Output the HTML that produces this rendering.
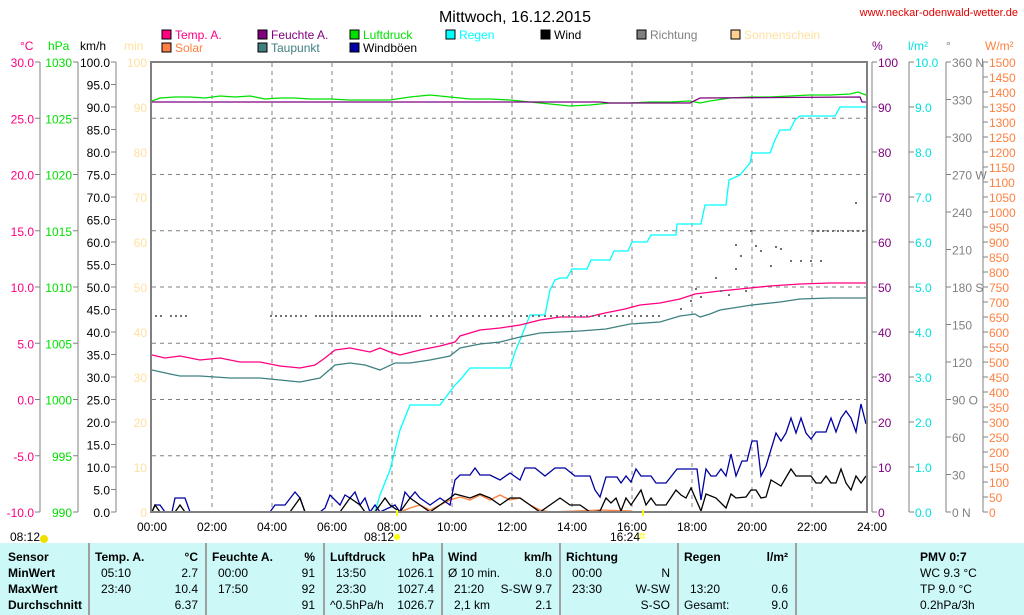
<!DOCTYPE html>
<html><head><meta charset="utf-8"><style>
body{margin:0;width:1024px;height:615px;overflow:hidden;background:#fff;font-family:"Liberation Sans",sans-serif}
svg{position:absolute;left:0;top:0}
text{font-family:"Liberation Sans",sans-serif;font-size:12px}
#tbl{position:absolute;left:0;top:543px;width:1024px;height:72px;background:#ccf8f8;font-size:12px}
#tbl div{position:absolute;white-space:nowrap}
.b{font-weight:bold}
.sep{width:2px;height:72px;top:0;background:#a0a0a0}
</style></head><body>
<svg id="s" width="1024" height="543" viewBox="0 0 1024 543">
<text x="515" y="22" font-size="16" text-anchor="middle" style="font-size:16px">Mittwoch, 16.12.2015</text>
<text x="1018" y="16" text-anchor="end" fill="#e00000" style="font-size:11px">www.neckar-odenwald-wetter.de</text>
<g id="grid" stroke="#808080" stroke-dasharray="4,4" stroke-width="1"></g>
<g id="axes"></g>
<g fill="none" stroke-width="1.3">
<polyline stroke="#00e000" points="152,101 160,98 175,97 190,97 205,98 220,96 235,97 250,96 265,99 280,98 295,98 310,99 330,99 350,100 370,100 390,100 410,97 430,95 450,97 470,99 490,99 510,100 530,102 550,104 570,106 590,105 610,103 630,103 650,102 670,102 690,101 700,103 710,101 730,98 750,97 770,97 790,96 810,95 830,95 850,94 858,92 866,95"/>
<polyline stroke="#800080" points="152,102 600,102 610,103 690,103 700,98 860,97 862,102 866,102"/>
<polyline stroke="#00ffff" points="152,512 375,512 380,495 390,470 400,430 410,405 440,405 455,385 460,380 470,368 510,368 515,352 520,340 530,315 545,315 550,290 555,280 560,278 567,278 572,269 587,269 591,260 610,260 614,251 628,251 632,242 647,242 651,235 676,235 677,224 701,224 705,205 726,205 729,180 740,175 750,163 752,153 770,153 775,140 780,130 790,130 795,120 800,116 835,116 840,107 866,107"/>
<polyline stroke="#ff0080" points="152,355 165,358 180,356 200,360 220,358 240,362 260,362 280,366 300,368 315,365 325,358 335,350 350,348 360,350 370,352 380,348 390,352 400,355 420,350 440,346 455,342 460,336 480,330 500,328 520,325 540,320 560,317 588,317 605,313 625,309 640,305 660,303 680,299 695,294 720,291 750,288 770,286 800,284 830,283 866,283"/>
<polyline stroke="#408080" points="152,370 170,374 180,376 200,376 230,378 260,378 280,380 300,382 320,378 335,365 350,363 365,365 380,370 395,363 410,363 430,360 450,356 460,348 480,344 500,342 520,337 540,333 560,332 580,331 606,329 630,324 660,322 680,316 695,314 700,317 710,314 720,310 752,305 780,302 800,299 830,298 866,298"/>
<polyline stroke="#ff8040" points="400,512 410,508 420,505 430,510 440,505 450,500 460,497 470,500 480,495 490,500 500,495 510,500 520,498 530,505 540,510 550,512 600,510 632,511"/>
<polyline stroke="#0000a0" points="152,512 155,505 160,505 165,512 172,512 175,498 185,498 190,512 270,512 275,505 285,505 295,492 300,498 305,512 320,512 325,508 330,495 340,505 345,495 350,498 355,492 360,505 365,498 370,512 375,505 380,512 395,505 400,512 405,492 410,498 415,492 420,498 430,505 440,498 450,505 455,480 460,475 470,475 475,468 480,475 490,475 500,480 510,473 520,480 525,468 535,468 545,476 555,468 565,468 575,476 590,476 595,490 600,497 606,477 617,477 621,483 626,476 631,482 636,469 641,476 651,476 656,483 666,483 677,469 697,469 701,500 706,469 711,476 716,476 721,469 726,476 731,454 736,476 742,461 747,461 752,441 757,441 761,476 766,466 776,433 781,441 786,433 791,418 796,433 801,418 806,433 811,439 816,432 826,432 831,418 836,432 841,418 846,411 851,418 856,432 861,404 866,424"/>
<polyline stroke="#000" points="152,512 155,505 160,512 175,512 180,505 185,512 290,512 295,505 300,498 305,512 340,512 345,505 350,498 360,505 365,512 375,512 380,505 385,498 390,505 400,512 405,505 410,498 420,505 430,512 440,505 450,498 455,494 470,498 480,494 490,498 500,505 510,498 520,498 530,505 540,512 550,505 560,498 570,505 580,505 590,512 600,511 606,498 611,503 616,498 621,511 626,498 631,505 641,490 646,505 651,498 656,505 666,505 676,490 681,495 686,498 691,488 701,511 706,494 716,498 726,508 731,494 736,498 746,497 751,490 756,490 761,498 766,497 771,480 776,483 781,486 791,469 796,476 811,476 816,483 821,483 826,476 831,483 836,483 841,469 846,483 851,490 856,476 861,483 866,476"/>
</g>
<g id="dots" fill="#707070"></g>
<rect x="150" y="61" width="2" height="452" fill="#808080"/>
<rect x="866" y="61" width="2" height="452" fill="#808080"/>
<rect x="150" y="61" width="718" height="2" fill="#808080"/>
<rect x="150" y="511" width="718" height="2" fill="#808080"/>
<g id="leg"></g>
<text x="10" y="541">08:12</text><circle cx="44" cy="539" r="4" fill="#f0e000"/>
<text x="364" y="541">08:12</text><circle cx="397" cy="537" r="3" fill="#ffff00"/>
<text x="610" y="541">16:24</text><rect x="640" y="534" width="4" height="4" fill="none" stroke="#ffff00"/>
<rect x="396" y="510" width="2" height="6" fill="#ffff00"/><rect x="642" y="510" width="2" height="6" fill="#ffff00"/>
</svg>
<div id="tbl">
<div class="sep" style="left:88px"></div><div class="sep" style="left:205px"></div><div class="sep" style="left:323px"></div><div class="sep" style="left:441px"></div><div class="sep" style="left:559px"></div><div class="sep" style="left:677px"></div><div class="sep" style="left:795px"></div>
<div class="b" style="left:8px;top:7px">Sensor</div><div class="b" style="left:8px;top:23px">MinWert</div><div class="b" style="left:8px;top:39px">MaxWert</div><div class="b" style="left:8px;top:55px">Durchschnitt</div>
<div class="b" style="left:95px;top:7px">Temp. A.</div><div class="b" style="right:826px;top:7px">°C</div>
<div style="left:101px;top:23px">05:10</div><div style="right:826px;top:23px">2.7</div>
<div style="left:101px;top:39px">23:40</div><div style="right:826px;top:39px">10.4</div>
<div style="right:826px;top:55px">6.37</div>
<div class="b" style="left:212px;top:7px">Feuchte A.</div><div class="b" style="right:709px;top:7px">%</div>
<div style="left:218px;top:23px">00:00</div><div style="right:709px;top:23px">91</div>
<div style="left:218px;top:39px">17:50</div><div style="right:709px;top:39px">92</div>
<div style="right:709px;top:55px">91</div>
<div class="b" style="left:330px;top:7px">Luftdruck</div><div class="b" style="right:590px;top:7px">hPa</div>
<div style="left:336px;top:23px">13:50</div><div style="right:590px;top:23px">1026.1</div>
<div style="left:336px;top:39px">23:30</div><div style="right:590px;top:39px">1027.4</div>
<div style="left:330px;top:55px">^0.5hPa/h</div><div style="right:590px;top:55px">1026.7</div>
<div class="b" style="left:448px;top:7px">Wind</div><div class="b" style="right:472px;top:7px">km/h</div>
<div style="left:448px;top:23px">Ø 10 min.</div><div style="right:472px;top:23px">8.0</div>
<div style="left:454px;top:39px">21:20</div><div style="right:472px;top:39px">S-SW 9.7</div>
<div style="left:454px;top:55px">2,1 km</div><div style="right:472px;top:55px">2.1</div>
<div class="b" style="left:566px;top:7px">Richtung</div>
<div style="left:572px;top:23px">00:00</div><div style="right:354px;top:23px">N</div>
<div style="left:572px;top:39px">23:30</div><div style="right:354px;top:39px">W-SW</div>
<div style="right:354px;top:55px">S-SO</div>
<div class="b" style="left:684px;top:7px">Regen</div><div class="b" style="right:236px;top:7px">l/m²</div>
<div style="left:690px;top:39px">13:20</div><div style="right:236px;top:39px">0.6</div>
<div style="left:684px;top:55px">Gesamt:</div><div style="right:236px;top:55px">9.0</div>
<div class="b" style="left:920px;top:7px">PMV 0:7</div>
<div style="left:920px;top:23px">WC 9.3 °C</div><div style="left:920px;top:39px">TP 9.0 °C</div><div style="left:920px;top:55px">0.2hPa/3h</div>
</div>
<script>
var NS="http://www.w3.org/2000/svg";
function el(p,t,a,txt){var e=document.createElementNS(NS,t);for(var k in a)e.setAttribute(k,a[k]);if(txt!=null)e.textContent=txt;document.getElementById(p).appendChild(e);return e;}
var T=62,B=512,H=450;
for(var i=1;i<8;i++){var y=T+i*56.25;el("grid","line",{x1:152,x2:866,y1:y,y2:y});}
for(var h=2;h<24;h+=2){var x=152+h*30;el("grid","line",{x1:x,x2:x,y1:63,y2:511});}
for(var h=0;h<=24;h+=2){el("axes","text",{x:152+h*30,y:531,"text-anchor":"middle"},(h<10?"0":"")+h+":00");}
function axis(x,n,lab,col,side,tick){
 el("axes","line",{x1:x,x2:x,y1:T,y2:B,stroke:"#808080"});
 for(var i=0;i<=n;i++){var y=T+i*H/n;
  el("axes","line",{x1:side<0?x-5:x,x2:side<0?x:x+5,y1:y,y2:y,stroke:"#808080"});
  var l=lab(i);if(l!=null)el("axes","text",{x:side<0?x-6:x+6,y:y+5,"text-anchor":side<0?"end":"start",fill:col},l);}
}
axis(40,8,function(i){return (30-5*i).toFixed(1)},"#ff0080",-1);
axis(78,8,function(i){return ""+(1030-5*i)},"#00e000",-1);
axis(116,20,function(i){return (100-5*i).toFixed(1)},"#000",-1);
for(var i=0;i<=10;i++)el("axes","text",{x:147,y:T+i*45+5,"text-anchor":"end",fill:"#ffe0a0"},""+(100-10*i));
axis(872,10,function(i){return ""+(100-10*i)},"#800080",1);
axis(909,10,function(i){return (10-i).toFixed(1)},"#00e0e0",1);
var dl={0:"360 N",3:"270 W",6:"180 S",9:"90 O",12:"0 N"};
axis(946,12,function(i){return dl[i]||""+(360-30*i)},"#808080",1);
axis(983,30,function(i){return ""+(1500-50*i)},"#ff8040",1);
[["°C",20,"#ff0080"],["hPa",48,"#00e000"],["km/h",80,"#000"],["min",124,"#ffe0a0"],["%",872,"#800080"],["l/m²",908,"#00e0e0"],["°",946,"#808080"],["W/m²",985,"#ff8040"]].forEach(function(a){el("axes","text",{x:a[1],y:50,fill:a[2]},a[0]);});
[["Temp. A.",162,38,"#ff0080","#ff0080"],["Feuchte A.",258,38,"#800080","#800080"],["Luftdruck",350,38,"#00e000","#00e000"],["Regen",446,38,"#00ffff","#00ffff"],["Wind",541,38,"#000","#000"],["Richtung",637,38,"#808080","#808080"],["Sonnenschein",731,38,"#ffe0a0","#ffd090"],["Solar",162,51,"#ff8040","#ff8040"],["Taupunkt",258,51,"#408080","#408080"],["Windböen",350,51,"#000","#0000a0"]].forEach(function(a){
 el("leg","rect",{x:a[1],y:a[2]-8,width:9,height:9,fill:a[4],stroke:"#000"});el("leg","text",{x:a[1]+13,y:a[2]+1,fill:a[3]},a[0]);});
function d(x,y){el("dots","rect",{x:x,y:y,width:2,height:2});}
[155,160,170,175,180,185].forEach(function(x){d(x,315)});
for(var x=270;x<=305;x+=5)d(x,315);
for(var x=315;x<=420;x+=4)d(x,315);
for(var x=430;x<=660;x+=6)d(x,315);
for(var x=812;x<=866;x+=5)d(x,230);
[[715,277],[735,244],[740,255],[750,230],[755,245],[760,250],[770,265],[745,290],[720,290],[700,296],[690,300],[680,308],[695,288],[775,246],[790,260],[800,260],[810,260],[820,260],[780,248],[855,202],[735,268],[728,294]].forEach(function(p){d(p[0],p[1])});
</script>
</body></html>
